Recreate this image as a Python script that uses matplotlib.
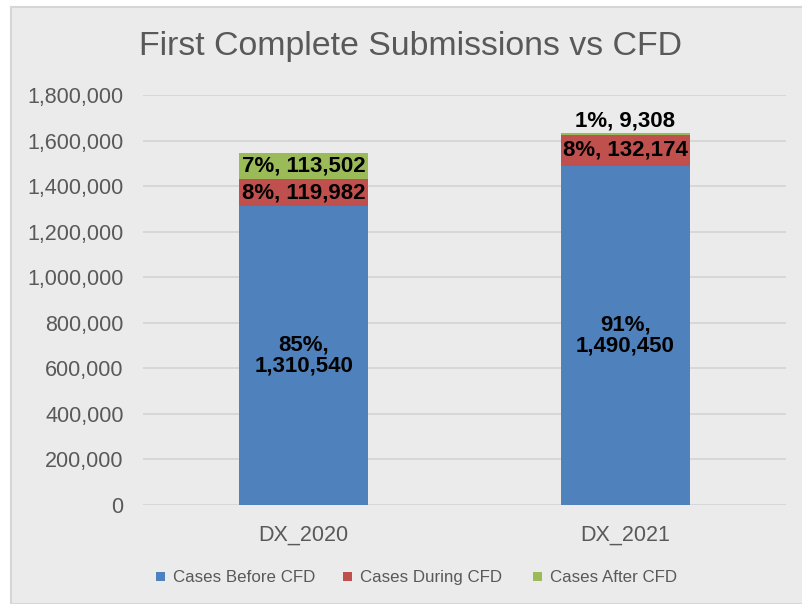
import matplotlib
matplotlib.use("Agg")
import matplotlib.pyplot as plt
from matplotlib.patches import Rectangle
from matplotlib.ticker import FuncFormatter, MultipleLocator

categories = ["DX_2020", "DX_2021"]
series_names = ["Cases Before CFD", "Cases During CFD", "Cases After CFD"]
before = [1310540, 1490450]
during = [119982, 132174]
after = [113502, 9308]
pct_before = ["85%", "91%"]
pct_during = ["8%", "8%"]
pct_after = ["7%", "1%"]

colors = ["#4F81BD", "#C0504D", "#9BBB59"]
bg = "#EBEBEB"

plt.rcParams['font.family'] = ['Liberation Sans', 'DejaVu Sans']

fig = plt.figure(figsize=(8.02, 6.04), dpi=100)
fig.patch.set_facecolor("white")
# panel
fig.patches.append(Rectangle((11/802, 0), 1, 1 - 7/604, transform=fig.transFigure,
                             facecolor=bg, edgecolor="#D6D6D6", linewidth=1.5, zorder=-10))

ax = fig.add_axes([143/802, 1 - 505/604, 643/802, 410/604])
ax.set_zorder(1)
ax.patch.set_alpha(0)

x = list(range(len(categories)))
w = 0.40
b1 = ax.bar(x, before, w, color=colors[0], label=series_names[0], zorder=3)
b2 = ax.bar(x, during, w, bottom=before, color=colors[1], label=series_names[1], zorder=3)
bottom3 = [a + b for a, b in zip(before, during)]
b3 = ax.bar(x, after, w, bottom=bottom3, color=colors[2], label=series_names[2], zorder=3)

ax.set_xlim(-0.5, 1.5)
ax.set_ylim(0, 1800000)
ax.yaxis.set_major_locator(MultipleLocator(200000))
ax.yaxis.set_major_formatter(FuncFormatter(lambda v, p: f"{int(v):,}"))
ax.grid(axis="y", color="#D4D4D4", linewidth=1.2, zorder=0)
ax.set_axisbelow(True)
for s in ax.spines.values():
    s.set_visible(False)
ax.tick_params(axis="both", length=0, labelsize=15.5, colors="#595959")
ax.tick_params(axis="y", pad=14)
ax.tick_params(axis="x", pad=14)
ax.set_xticks(x)
ax.set_xticklabels(categories)

fs_lab = 16
lab_kw = dict(ha="center", va="center", fontsize=fs_lab, fontweight="bold", color="black", zorder=5)
for i in x:
    ax.text(i, before[i] / 2, f"{pct_before[i]},\n{before[i]:,}", linespacing=1.0, **lab_kw)
    ax.text(i, before[i] + during[i] / 2, f"{pct_during[i]}, {during[i]:,}", **lab_kw)
    top = bottom3[i] + after[i]
    if after[i] > 50000:
        ax.text(i, bottom3[i] + after[i] / 2, f"{pct_after[i]}, {after[i]:,}", **lab_kw)
    else:
        ax.text(i, top + 8000, f"{pct_after[i]}, {after[i]:,}",
                ha="center", va="bottom", fontsize=fs_lab, fontweight="bold", color="black", zorder=5)

fig.text(0.512, 1 - 47/604, "First Complete Submissions vs CFD", ha="center", va="center",
         fontsize=24.4, color="#595959")

# legend (manual so all entries share one baseline)
leg_marker_x = [156, 343, 533]
leg_y = 576
for name, col, mx in zip(series_names, colors, leg_marker_x):
    fig.patches.append(Rectangle((mx / 802, 1 - (leg_y + 4.5) / 604), 9 / 802, 9 / 604,
                                 transform=fig.transFigure, facecolor=col, edgecolor="none"))
    fig.text((mx + 17) / 802, 1 - (leg_y + 6) / 604, name, ha="left", va="baseline",
             fontsize=12.2, color="#595959")

fig.savefig("out.png", dpi=100, facecolor=fig.get_facecolor())
